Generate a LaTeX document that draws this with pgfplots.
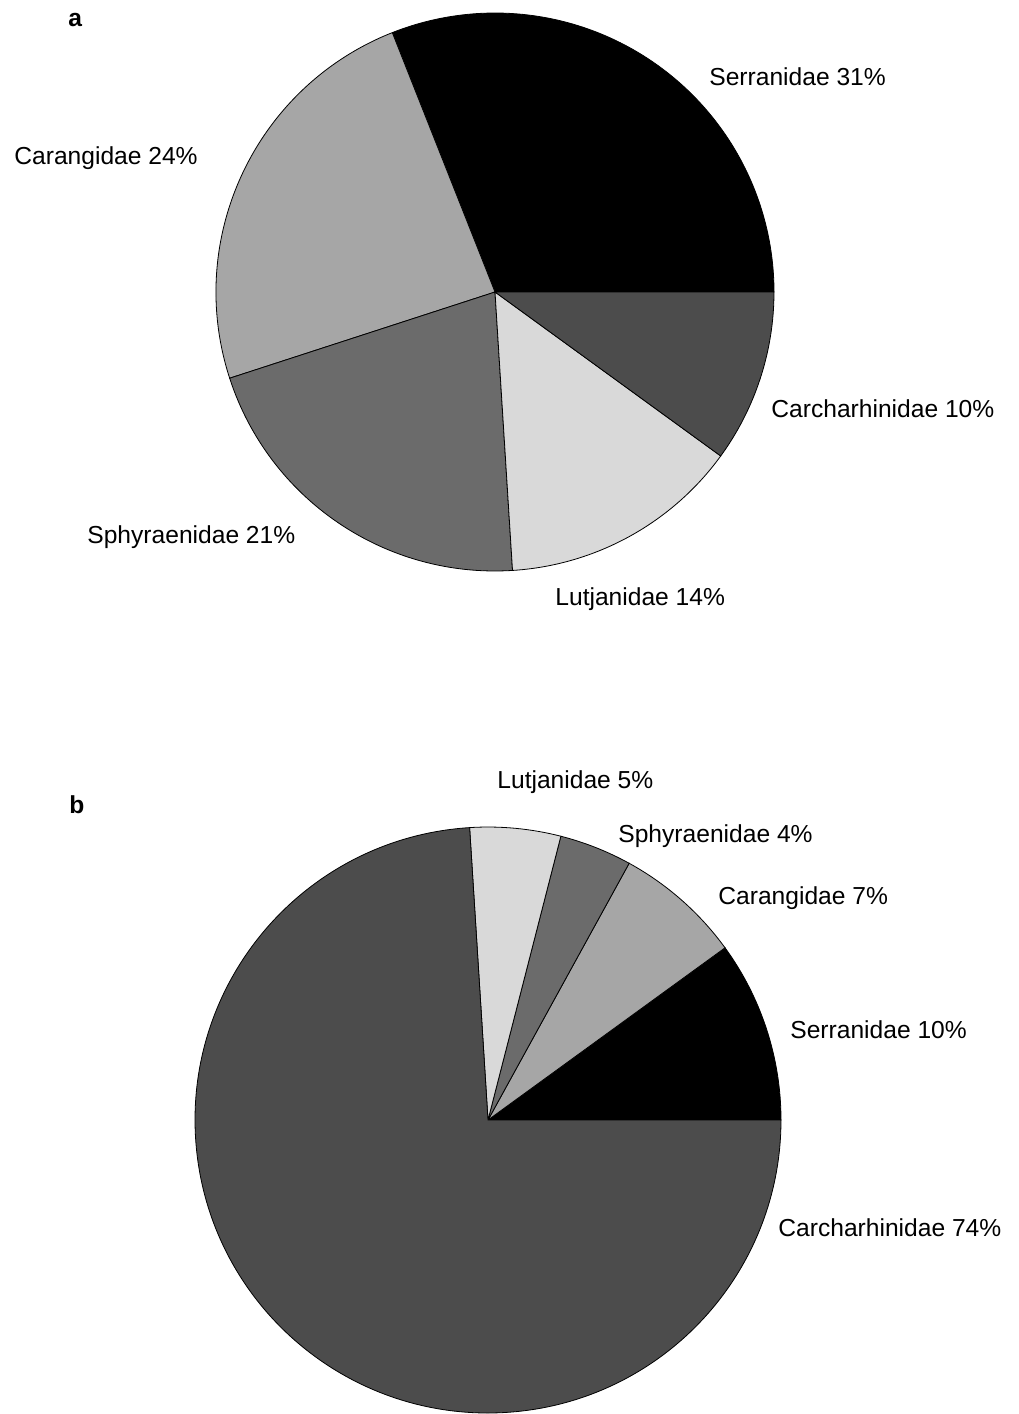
\documentclass[border=0pt]{standalone}
\usepackage{fontspec}
\setmainfont{Liberation Sans}
\usepackage{pgfplots}
\usepackage{pgfplotstable}
\pgfplotsset{compat=1.18}

\definecolor{serr}{gray}{0}
\definecolor{cara}{gray}{0.65}
\definecolor{sphy}{gray}{0.42}
\definecolor{lutj}{gray}{0.85}
\definecolor{carc}{gray}{0.30}

% shares in %, slices go counter-clockwise from 3 o'clock
\pgfplotstableread{
family pct col
Serranidae 31 serr
Carangidae 24 cara
Sphyraenidae 21 sphy
Lutjanidae 14 lutj
Carcharhinidae 10 carc
}\tabA
\pgfplotstableread{
family pct col
Serranidae 10 serr
Carangidae 7 cara
Sphyraenidae 4 sphy
Lutjanidae 5 lutj
Carcharhinidae 74 carc
}\tabB

% #1 table, #2 radius (pt)
\newcommand{\pie}[2]{%
  \gdef\angstart{0}%
  \foreach \i in {0,...,4}{%
    \pgfplotstablegetelem{\i}{pct}\of#1\let\share\pgfplotsretval
    \pgfplotstablegetelem{\i}{col}\of#1\let\slicecol\pgfplotsretval
    \pgfmathsetmacro\angend{\angstart+3.6*\share}%
    \filldraw[fill=\slicecol, draw=black, line width=0.4pt]
      (axis cs:0,0) -- ++(\angstart:#2)
      arc[start angle=\angstart, end angle=\angend, radius=#2] -- cycle;
    \global\let\angstart\angend
  }}

\newcommand{\lbl}[3]{\node[anchor=base west, inner sep=0pt] at (#1,#2) {#3};}

\begin{document}
\begin{tikzpicture}[x=0.5pt, y=-0.5pt, font=\fontsize{12.3}{14}\selectfont]
\useasboundingbox (0,0) rectangle (1018,1414);

\begin{axis}[at={(247.5pt,-146pt)}, anchor=center, scale only axis,
  width=279pt, height=279pt, xmin=-1, xmax=1, ymin=-1, ymax=1,
  hide axis, clip=false]
  \pgfplotsextra{\pie{\tabA}{139.5pt}}
\end{axis}

\begin{axis}[at={(244pt,-560pt)}, anchor=center, scale only axis,
  width=293pt, height=293pt, xmin=-1, xmax=1, ymin=-1, ymax=1,
  hide axis, clip=false]
  \pgfplotsextra{\pie{\tabB}{146.5pt}}
\end{axis}

\lbl{68}{26}{\textbf{a}}
\lbl{709}{85}{Serranidae 31\%}
\lbl{14}{164}{Carangidae 24\%}
\lbl{771}{417}{Carcharhinidae 10\%}
\lbl{87}{543}{Sphyraenidae 21\%}
\lbl{555}{605}{Lutjanidae 14\%}

\lbl{69}{813}{\textbf{b}}
\lbl{497}{788}{Lutjanidae 5\%}
\lbl{618}{842}{Sphyraenidae 4\%}
\lbl{718}{904}{Carangidae 7\%}
\lbl{790}{1038}{Serranidae 10\%}
\lbl{778}{1236}{Carcharhinidae 74\%}
\end{tikzpicture}
\end{document}
